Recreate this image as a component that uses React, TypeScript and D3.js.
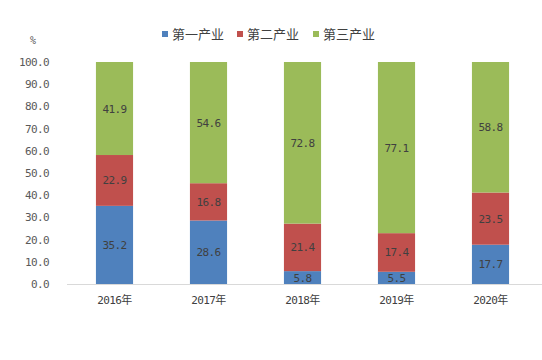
import React from "react";
import * as d3 from "d3";

const years = ["2016年", "2017年", "2018年", "2019年", "2020年"];
const primary = [35.2, 28.6, 5.8, 5.5, 17.7];
const secondary = [22.9, 16.8, 21.4, 17.4, 23.5];
const tertiary = [41.9, 54.6, 72.8, 77.1, 58.8];
const seriesNames = ["第一产业", "第二产业", "第三产业"];
const colors = ["#4F81BD", "#C0504D", "#9BBB59"];
const yTicks = [0, 10, 20, 30, 40, 50, 60, 70, 80, 90, 100];

const W = 542;
const H = 360;
const FONT = "'DejaVu Sans Mono', 'Noto Sans CJK SC', monospace";

const App: React.FC = () => {
  const x = d3.scaleBand<string>().domain(years).range([67.5, 537.5]);
  const y = d3.scaleLinear().domain([0, 100]).range([284, 62]);
  const barW = x.bandwidth() * 0.395;

  const rows = years.map((yr, i) => ({
    year: yr,
    s0: primary[i],
    s1: secondary[i],
    s2: tertiary[i],
  }));
  const stack = d3.stack<any>().keys(["s0", "s1", "s2"]);
  const layers = stack(rows);

  const legendX = [162, 237, 313];

  return (
    <svg
      width={W}
      height={H}
      style={{ position: "absolute", left: 0, top: 0, background: "#fff" }}
    >
      <text x={33} y={44} fontSize={10} fill="#595959" textAnchor="middle" fontFamily={FONT}>
        %
      </text>

      {yTicks.map((t) => (
        <text
          key={t}
          x={49}
          y={y(t) + 4}
          fontSize={11}
          fill="#595959"
          textAnchor="end"
          fontFamily={FONT}
          letterSpacing={-0.6}
        >
          {t.toFixed(1)}
        </text>
      ))}

      {layers.map((layer, li) =>
        layer.map((d, i) => {
          const cx = x(years[i])! + x.bandwidth() / 2;
          const top = y(d[1]);
          const bot = y(d[0]);
          const v = d[1] - d[0];
          return (
            <g key={`${li}-${i}`}>
              <rect x={cx - barW / 2} y={top} width={barW} height={bot - top} fill={colors[li]} />
              <text
                x={cx}
                y={(top + bot) / 2 + 4}
                fontSize={11}
                fill="#404040"
                textAnchor="middle"
                fontFamily={FONT}
                letterSpacing={-0.6}
              >
                {v.toFixed(1)}
              </text>
            </g>
          );
        })
      )}

      <line x1={67} x2={542} y1={284.5} y2={284.5} stroke="#d9d9d9" strokeWidth={1} />

      {years.map((yr) => (
        <text
          key={yr}
          x={x(yr)! + x.bandwidth() / 2}
          y={304}
          fontSize={11}
          fill="#404040"
          textAnchor="middle"
          fontFamily={FONT}
          letterSpacing={-0.6}
        >
          {yr}
        </text>
      ))}

      {seriesNames.map((name, i) => (
        <g key={name}>
          <rect x={legendX[i]} y={31} width={6} height={6} fill={colors[i]} />
          <text x={legendX[i] + 10} y={39} fontSize={13} fill="#404040" fontFamily="'Noto Sans CJK SC', sans-serif">
            {name}
          </text>
        </g>
      ))}
    </svg>
  );
};

export default App;
